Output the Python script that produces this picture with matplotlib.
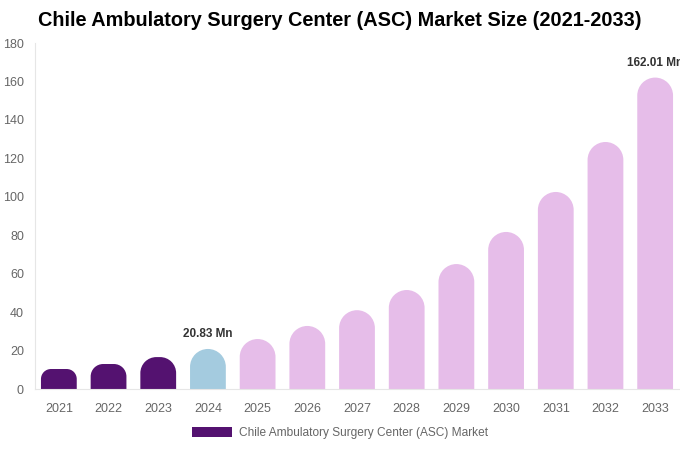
import matplotlib
matplotlib.use("Agg")
import numpy as np
import matplotlib.pyplot as plt
from matplotlib.patches import PathPatch, Patch
from matplotlib.path import Path

plt.rcParams["font.family"] = ["Liberation Sans", "DejaVu Sans"]

years = ["2021", "2022", "2023", "2024", "2025", "2026", "2027",
         "2028", "2029", "2030", "2031", "2032", "2033"]
values = [10.4, 13.0, 16.6, 20.83, 26.0, 32.8, 41.0,
          51.5, 65.0, 81.7, 102.5, 128.5, 162.01]
kinds = ["hist", "hist", "hist", "base", "fc", "fc", "fc",
         "fc", "fc", "fc", "fc", "fc", "fc"]
labels = {3: "20.83 Mn", 12: "162.01 Mn"}

COLORS = {"hist": "#541270", "base": "#a4cbdf", "fc": "#e6bde9"}
W, H = 680, 450


def rounded_top(x0, w, h, r, aspect):
    """bar path with circular top corners (r in x units, aspect = y per x)."""
    ry = r * aspect
    verts, codes = [(x0 + w, 0), (x0 + w, h - ry)], [Path.MOVETO, Path.LINETO]
    for (cx, cy), (t1, t2) in [((x0 + w - r, h - ry), (0, 90)),
                               ((x0 + r, h - ry), (90, 180))]:
        arc = Path.arc(t1, t2)
        v = arc.vertices
        verts += [(cx + r * a, cy + ry * b) for a, b in v]
        codes += [Path.LINETO] + list(arc.codes[1:])
    verts += [(x0, 0), (x0, 0)]
    codes += [Path.LINETO, Path.CLOSEPOLY]
    return Path(np.array(verts), codes)


fig = plt.figure(figsize=(W / 100, H / 100), dpi=100)
ax_l, ax_r, ax_t, ax_b = 35, 680, 43, 389
ax = fig.add_axes([ax_l / W, (H - ax_b) / H, (ax_r - ax_l) / W, (ax_b - ax_t) / H])

xmin, xmax, ymin, ymax = -0.48, 12.5, 0, 180
ax.set_xlim(xmin, xmax)
ax.set_ylim(ymin, ymax)

# px per data unit, so the rounded tops stay circular
px_x = (ax_r - ax_l) / (xmax - xmin)
px_y = (ax_b - ax_t) / (ymax - ymin)
aspect = px_x / px_y
bw = 0.72

for i, (v, k) in enumerate(zip(values, kinds)):
    r = min(bw / 2, v * px_y / 2 / px_x)
    ax.add_patch(PathPatch(rounded_top(i - bw / 2, bw, v, r, aspect),
                           facecolor=COLORS[k], edgecolor="none"))
    if i in labels:
        ax.text(i, v + 4.5, labels[i], ha="center", va="bottom",
                fontsize=8.5, fontweight="bold", color="#333333", clip_on=False)

ax.set_xticks(range(len(years)))
ax.set_xticklabels(years)
ax.set_yticks(range(0, 181, 20))
ax.tick_params(axis="both", length=0, labelsize=9, colors="#666666")
ax.tick_params(axis="x", pad=10)
ax.tick_params(axis="y", pad=8)
for s in ["top", "right"]:
    ax.spines[s].set_visible(False)
for s in ["left", "bottom"]:
    ax.spines[s].set_color("#e6e6e6")

fig.text(0.5, 1 - 21 / H, "Chile Ambulatory Surgery Center (ASC) Market Size (2021-2033)",
         ha="center", va="center", fontsize=14.3, fontweight="bold", color="#000000")

fig.legend(handles=[Patch(facecolor=COLORS["hist"], edgecolor="none",
                          label="Chile Ambulatory Surgery Center (ASC) Market")],
           loc="center", bbox_to_anchor=(0.5, 1 - 433 / H), frameon=False,
           fontsize=8.6, labelcolor="#666666", handlelength=3.35, handleheight=1.0,
           handletextpad=0.6)

fig.savefig("out.png", dpi=100)
